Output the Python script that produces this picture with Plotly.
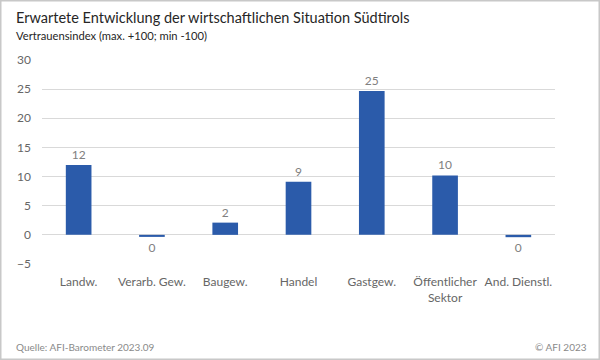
import plotly.graph_objects as go

categories = ["Landw.", "Verarb. Gew.", "Baugew.", "Handel", "Gastgew.", "Öffentlicher<br>Sektor", "And. Dienstl."]
values = [12.0, -0.35, 2.1, 9.1, 24.7, 10.2, -0.4]
labels = [str(int(round(v))) if round(v) != 0 else "0" for v in values]
y_ticks = [-5, 0, 5, 10, 15, 20, 25, 30]

W, H = 600, 360
ML, MR, MT, MB = 42, 45, 60, 96
PW, PH = W - ML - MR, H - MT - MB

def px(x):
    return (x - ML) / PW

def py(y):
    return (H - MB - y) / PH

fig = go.Figure(go.Bar(
    x=categories, y=values, text=labels, textposition="outside",
    textfont=dict(family="Lato", size=12, color="#808080"),
    marker=dict(color="#2B5BAA", line=dict(width=0)),
    cliponaxis=False,
))

fig.update_layout(
    width=W, height=H,
    margin=dict(l=ML, r=MR, t=MT, b=MB),
    paper_bgcolor="white", plot_bgcolor="white",
    bargap=0.65, showlegend=False,
    xaxis=dict(showgrid=False, showline=False, ticks="", tickangle=0, ticklabelstandoff=9,
               tickfont=dict(family="Lato", size=12, color="#666666")),
    yaxis=dict(range=[-5, 30], tickvals=y_ticks, showgrid=True, gridcolor="#d9d9d9",
               gridwidth=1, zeroline=True, zerolinecolor="#d9d9d9", zerolinewidth=1,
               showline=False, ticks="", ticklabelstandoff=10,
               tickfont=dict(family="Lato", size=12, color="#666666")),
    font=dict(family="Lato"),
)

fig.add_annotation(text="Erwartete Entwicklung der wirtschaftlichen Situation Südtirols",
                   xref="paper", yref="paper", x=px(14), y=py(17), xanchor="left", yanchor="middle",
                   showarrow=False, font=dict(family="Lato", size=14.5, color="#262626"))
fig.add_annotation(text="Vertrauensindex (max. +100; min -100)",
                   xref="paper", yref="paper", x=px(14), y=py(36), xanchor="left", yanchor="middle",
                   showarrow=False, font=dict(family="Lato", size=11.2, color="#262626"))
fig.add_annotation(text="Quelle: AFI-Barometer 2023.09",
                   xref="paper", yref="paper", x=px(14), y=py(347), xanchor="left", yanchor="middle",
                   showarrow=False, font=dict(family="Lato", size=10, color="#8a8a8a"))
fig.add_annotation(text="© AFI 2023",
                   xref="paper", yref="paper", x=px(589), y=py(347), xanchor="right", yanchor="middle",
                   showarrow=False, font=dict(family="Lato", size=10, color="#8a8a8a"))

fig.add_shape(type="rect", xref="paper", yref="paper",
              x0=px(0.75), x1=px(599.25), y0=py(359.25), y1=py(0.75),
              line=dict(color="#c8c8c8", width=1.5), fillcolor="rgba(0,0,0,0)")

fig.write_html("out.html", config={"displayModeBar": False},
               post_script="document.body.style.margin='0';")
